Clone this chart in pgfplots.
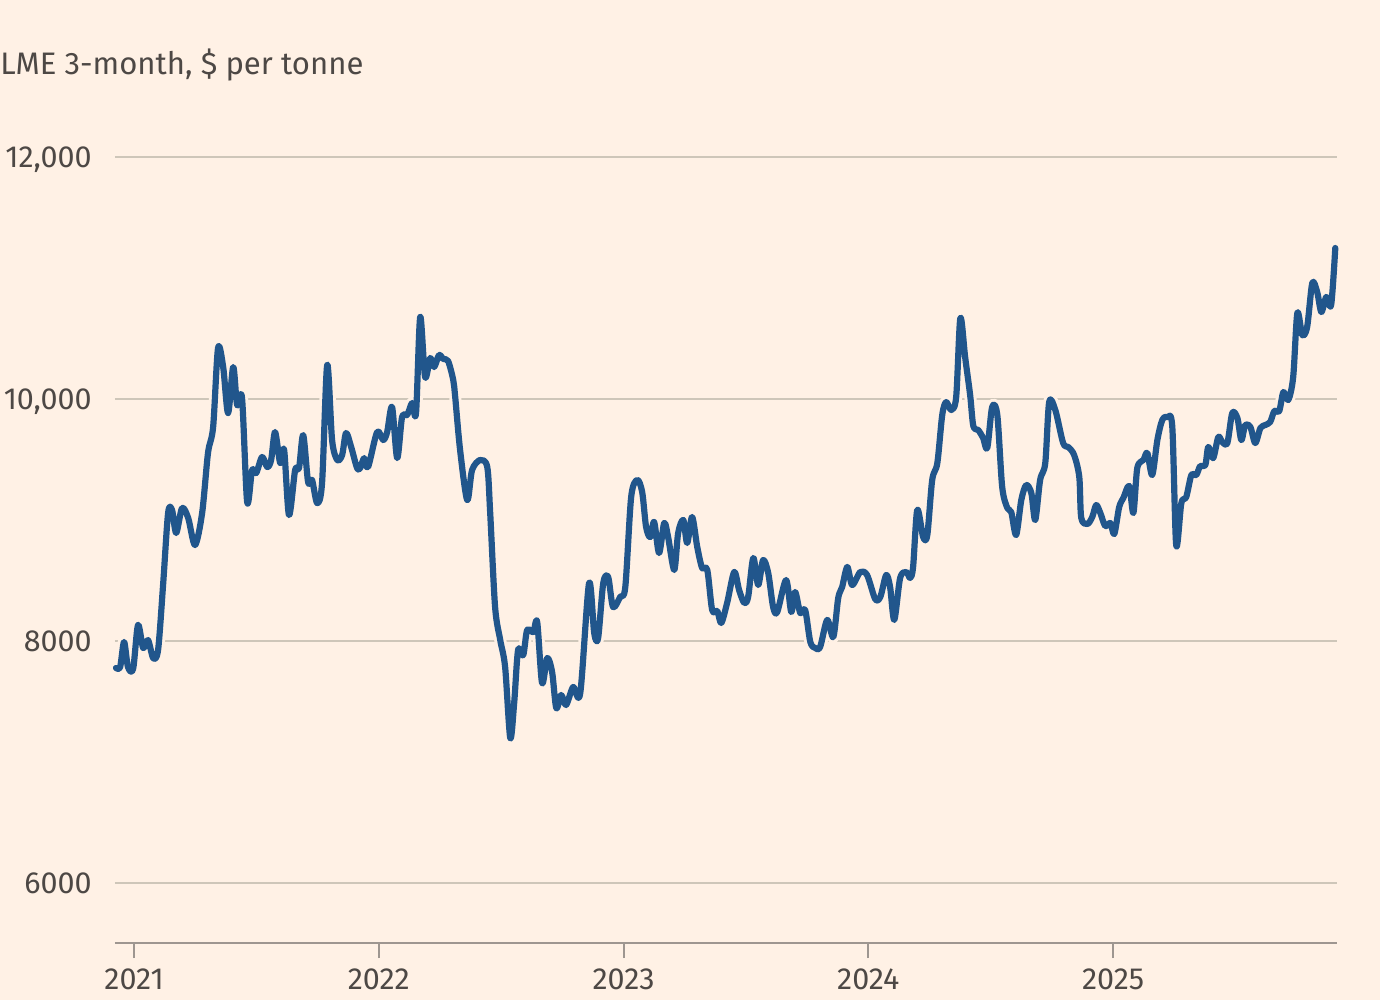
\documentclass[border=0pt]{standalone}
\usepackage{fontspec}
\setmainfont{Fira Sans}
\usepackage{pgfplots}
\pgfplotsset{compat=1.18}
\usepackage{pgfplotstable}
\definecolor{bgcol}{HTML}{FFF1E5}
\definecolor{txtcol}{HTML}{4D4845}
\definecolor{gridcol}{HTML}{CEC6B9}
\definecolor{axcol}{HTML}{9E9690}
\definecolor{linecol}{HTML}{21568C}

\pgfplotstableread{
year price
2020.926 7777
2020.943 7785
2020.959 7992
2020.975 7785
2020.996 7769
2021.016 8132
2021.037 7942
2021.057 8008
2021.078 7859
2021.098 7926
2021.119 8479
2021.139 9058
2021.155 9083
2021.172 8893
2021.196 9099
2021.221 9017
2021.249 8793
2021.278 9058
2021.302 9554
2021.323 9769
2021.343 10421
2021.364 10264
2021.384 9884
2021.405 10264
2021.421 9950
2021.441 10008
2021.462 9149
2021.482 9413
2021.499 9388
2021.523 9521
2021.544 9438
2021.560 9496
2021.576 9727
2021.597 9471
2021.613 9579
2021.633 9041
2021.658 9413
2021.674 9430
2021.691 9702
2021.711 9314
2021.727 9331
2021.748 9140
2021.768 9306
2021.789 10281
2021.809 9661
2021.830 9496
2021.850 9537
2021.866 9719
2021.887 9603
2021.911 9430
2021.924 9430
2021.940 9512
2021.956 9438
2021.993 9727
2022.018 9661
2022.034 9727
2022.054 9934
2022.075 9512
2022.095 9851
2022.116 9868
2022.136 9967
2022.152 9884
2022.169 10678
2022.189 10182
2022.210 10339
2022.226 10264
2022.246 10364
2022.263 10331
2022.283 10314
2022.304 10157
2022.312 10017
2022.332 9579
2022.361 9165
2022.381 9413
2022.414 9496
2022.443 9438
2022.455 9058
2022.475 8281
2022.496 8008
2022.516 7785
2022.537 7198
2022.553 7488
2022.569 7926
2022.590 7884
2022.606 8091
2022.631 8074
2022.647 8157
2022.667 7653
2022.688 7859
2022.708 7744
2022.725 7446
2022.745 7554
2022.765 7471
2022.794 7620
2022.823 7570
2022.859 8479
2022.880 8066
2022.896 8025
2022.917 8479
2022.937 8529
2022.957 8281
2022.986 8364
2023.007 8446
2023.031 9190
2023.056 9331
2023.076 9231
2023.092 8942
2023.109 8859
2023.125 8983
2023.145 8727
2023.166 8975
2023.182 8859
2023.207 8587
2023.223 8893
2023.244 9000
2023.260 8810
2023.280 9025
2023.301 8777
2023.321 8603
2023.342 8587
2023.362 8256
2023.383 8248
2023.399 8149
2023.423 8314
2023.452 8570
2023.472 8421
2023.493 8314
2023.509 8364
2023.530 8686
2023.550 8463
2023.570 8669
2023.591 8562
2023.611 8281
2023.628 8240
2023.664 8504
2023.685 8240
2023.701 8405
2023.722 8231
2023.742 8256
2023.763 7992
2023.783 7942
2023.803 7950
2023.832 8174
2023.857 8033
2023.877 8355
2023.893 8446
2023.914 8612
2023.934 8463
2023.967 8570
2023.995 8545
2024.028 8347
2024.049 8364
2024.073 8545
2024.089 8446
2024.106 8174
2024.130 8521
2024.155 8570
2024.171 8521
2024.183 8612
2024.200 9083
2024.224 8859
2024.241 8876
2024.261 9331
2024.282 9471
2024.302 9868
2024.318 9975
2024.339 9909
2024.359 10017
2024.376 10669
2024.396 10339
2024.416 10033
2024.429 9777
2024.449 9744
2024.469 9678
2024.486 9595
2024.506 9934
2024.527 9868
2024.547 9273
2024.568 9099
2024.584 9066
2024.604 8876
2024.625 9165
2024.645 9289
2024.666 9223
2024.682 9000
2024.702 9331
2024.723 9471
2024.739 9975
2024.764 9909
2024.796 9636
2024.817 9603
2024.841 9537
2024.862 9355
2024.870 9017
2024.895 8967
2024.915 9025
2024.931 9124
2024.948 9058
2024.968 8950
2024.989 8975
2025.005 8884
2025.025 9107
2025.042 9182
2025.066 9281
2025.083 9058
2025.099 9430
2025.124 9496
2025.140 9554
2025.160 9372
2025.181 9661
2025.201 9826
2025.222 9851
2025.242 9769
2025.258 8793
2025.279 9140
2025.299 9190
2025.320 9372
2025.340 9372
2025.356 9446
2025.377 9455
2025.389 9603
2025.409 9512
2025.430 9686
2025.446 9645
2025.467 9636
2025.487 9884
2025.508 9843
2025.524 9661
2025.540 9785
2025.561 9769
2025.581 9636
2025.602 9760
2025.622 9785
2025.642 9810
2025.659 9901
2025.679 9901
2025.696 10058
2025.716 9992
2025.736 10182
2025.753 10711
2025.773 10529
2025.793 10595
2025.814 10959
2025.834 10884
2025.851 10719
2025.871 10843
2025.891 10777
2025.908 11248
}\copper

\begin{document}
\begin{tikzpicture}
\path[use as bounding box, fill=bgcol] (0bp,0bp) rectangle (690bp,-500bp);
\node[anchor=base west, inner sep=0pt, text=txtcol, font=\fontsize{15.6}{18}\selectfont] at (0bp,-37bp) {LME 3-month, \$ per tonne};
\begin{axis}[
  at={(57.5bp,-471.5bp)}, anchor=south west,
  scale only axis, width=611bp, height=423.25bp,
  xmin=2020.922, xmax=2025.915, ymin=5504, ymax=12500,
  scaled ticks=false,
  axis lines*=left,
  x axis line style={draw=axcol, line width=1bp},
  y axis line style={draw=none},
  xtick={2021,2022,2023,2024,2025},
  xticklabels={2021,2022,2023,2024,2025},
  ytick={6000,8000,10000,12000},
  yticklabels={6000,8000,{10,000},{12,000}},
  tick align=outside,
  major tick length=7.5bp,
  xtick style={draw=axcol, line width=1bp},
  ytick style={draw=none},
  ymajorgrids,
  grid style={draw=gridcol, line width=1bp},
  ticklabel style={font=\fontsize{15.3}{18}\selectfont, text=txtcol, inner sep=0pt},
  yticklabel style={anchor=east, text depth=0pt, xshift=-4bp},
  xticklabel style={anchor=north, yshift=-5bp},
  /pgf/number format/assume math mode=true,
  clip=false,
]
\addplot[bgcol, line width=6bp, smooth, line join=round, line cap=round] table[x=year, y=price] {\copper};
\addplot[linecol, line width=3.1bp, smooth, line join=round, line cap=round] table[x=year, y=price] {\copper};
\end{axis}
\end{tikzpicture}
\end{document}
